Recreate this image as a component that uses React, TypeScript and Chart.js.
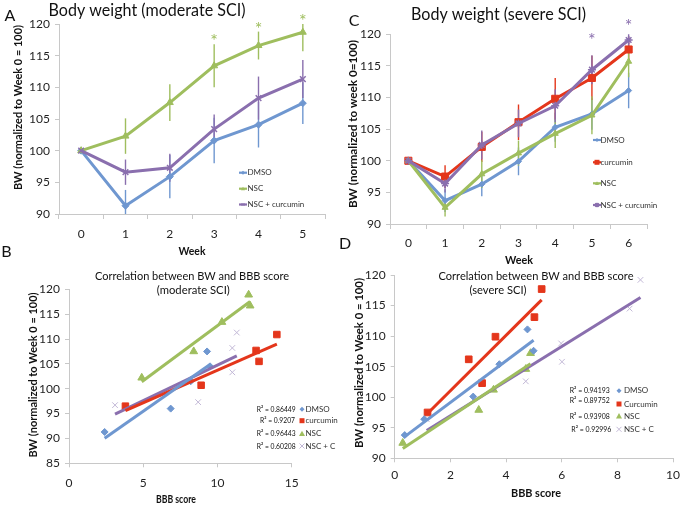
import React, { useEffect, useRef } from 'react';
import { Chart, registerables } from 'chart.js';

Chart.register(...registerables);

const FONT = 'Lato, "Open Sans", sans-serif';
const BLUE = '#6F97D0';
const RED = '#E4361B';
const GREEN = '#9FBE5E';
const PURPLE = '#8A6FAE';
const LAV = '#C2B8D6';
const AXIS = '#C8C8C8';
const TICK = '#1F1F1F';

// ---------- Panel A: body weight, moderate SCI ----------
const weeksModerate = ['0', '1', '2', '3', '4', '5'];
const modDMSO = [100, 91.3, 95.9, 101.6, 104.1, 107.5];
const modNSC = [100, 102.3, 107.6, 113.4, 116.6, 118.7];
const modNSCCur = [100, 96.6, 97.3, 103.4, 108.3, 111.3];
const modDMSOErr = [0, 2.5, 3.4, 3.6, 3.6, 3.3];
const modNSCErr = [0, 2.8, 2.9, 3.4, 2.2, 3.0];
const modNSCCurErr = [0, 2.0, 2.2, 2.3, 3.4, 3.0];

// ---------- Panel C: body weight, severe SCI ----------
const weeksSevere = ['0', '1', '2', '3', '4', '5', '6'];
const sevDMSO = [100, 93.7, 96.3, 99.9, 105.3, 107.4, 111.1];
const sevCur = [100, 97.5, 102.2, 106.1, 109.8, 113.1, 117.6];
const sevNSC = [100, 92.6, 97.9, 101.2, 104.3, 107.2, 115.7];
const sevNSCCur = [100, 96.4, 102.5, 105.9, 108.7, 114.4, 119.1];
const sevDMSOErr = [0, 1.8, 1.9, 2.2, 2.3, 2.5, 2.8];
const sevCurErr = [0, 1.8, 2.4, 2.8, 3.3, 3.5, 2.0];
const sevNSCErr = [0, 1.4, 2.2, 2.0, 2.3, 3.0, 2.5];
const sevNSCCurErr = [0, 1.4, 2.3, 2.2, 2.6, 2.3, 1.0];

// ---------- Panel B: BW vs BBB, moderate SCI ----------
const bbbModDMSO = [2.4, 6.85, 8.2, 9.5, 9.3];
const bwModDMSO = [91.3, 96.0, 101.5, 104.5, 107.5];
const bbbModCur = [3.8, 8.9, 12.6, 12.8, 14.0];
const bwModCur = [96.5, 100.7, 107.7, 105.5, 110.9];
const bbbModNSC = [4.9, 8.4, 10.3, 12.2, 12.1];
const bwModNSC = [102.2, 107.5, 113.4, 116.7, 118.9];
const bbbModNSCC = [3.1, 8.7, 11.0, 11.0, 11.3];
const bwModNSCC = [96.7, 97.3, 103.3, 108.2, 111.3];
const r2Moderate = ['R\u00B2 = 0.86449', 'R\u00B2 = 0.9207', 'R\u00B2 = 0.96443', 'R\u00B2 = 0.60208'];
const groupsModerate = ['DMSO', 'curcumin', 'NSC', 'NSC + C'];

// ---------- Panel D: BW vs BBB, severe SCI ----------
const bbbSevDMSO = [0.36, 1.06, 2.82, 3.76, 4.99, 4.77];
const bwSevDMSO = [93.8, 96.4, 100.1, 105.4, 107.6, 111.1];
const bbbSevCur = [1.18, 2.66, 3.14, 3.62, 5.02, 5.28];
const bwSevCur = [97.5, 106.2, 102.3, 109.9, 113.1, 117.7];
const bbbSevNSC = [0.29, 3.02, 3.55, 4.71, 4.88];
const bwSevNSC = [92.5, 97.9, 101.2, 104.6, 107.2];
const bbbSevNSCC = [1.15, 4.71, 6.01, 5.98, 8.44, 8.83];
const bwSevNSCC = [96.4, 102.6, 105.8, 108.8, 114.5, 119.2];
const r2Severe = ['R\u00B2 = 0.94193', 'R\u00B2 = 0.89752', 'R\u00B2 = 0.93908', 'R\u00B2 = 0.92996'];
const groupsSevere = ['DMSO', 'Curcumin', 'NSC', 'NSC + C'];

// ---------- helpers ----------
type TextItem = {
  text: string; x: number; y: number; size: number; bold?: boolean;
  color?: string; align?: 'left' | 'center' | 'right'; rotate?: boolean; width?: number;
};

function makeTextPlugin(id: string, items: TextItem[]) {
  return {
    id,
    afterDraw(chart: any) {
      const ctx = chart.ctx as CanvasRenderingContext2D;
      for (const t of items) {
        ctx.save();
        ctx.font = `${t.bold ? 'bold ' : ''}${t.size}px ${FONT}`;
        ctx.fillStyle = t.color || '#111';
        ctx.textBaseline = 'alphabetic';
        ctx.textAlign = 'left';
        ctx.translate(t.x, t.y);
        if (t.rotate) ctx.rotate(-Math.PI / 2);
        const w = ctx.measureText(t.text).width;
        const sx = t.width ? t.width / w : 1;
        ctx.scale(sx, 1);
        const align = t.align || 'center';
        const dx = align === 'center' ? -w / 2 : align === 'right' ? -w : 0;
        ctx.fillText(t.text, dx, 0);
        ctx.restore();
      }
    },
  };
}

function drawMarker(ctx: CanvasRenderingContext2D, kind: string, x: number, y: number, r: number, color: string) {
  ctx.save();
  ctx.fillStyle = color;
  ctx.strokeStyle = color;
  ctx.lineWidth = 1.3;
  ctx.beginPath();
  if (kind === 'diamond') {
    ctx.moveTo(x, y - r); ctx.lineTo(x + r, y); ctx.lineTo(x, y + r); ctx.lineTo(x - r, y); ctx.closePath(); ctx.fill();
  } else if (kind === 'square') {
    ctx.rect(x - r, y - r, 2 * r, 2 * r); ctx.fill();
  } else if (kind === 'triangle') {
    ctx.moveTo(x, y - r); ctx.lineTo(x + r, y + r * 0.8); ctx.lineTo(x - r, y + r * 0.8); ctx.closePath(); ctx.fill();
  } else if (kind === 'x') {
    ctx.moveTo(x - r, y - r); ctx.lineTo(x + r, y + r); ctx.moveTo(x + r, y - r); ctx.lineTo(x - r, y + r); ctx.lineWidth = 1; ctx.stroke();
  } else if (kind === 'star') {
    ctx.moveTo(x - r, y - r); ctx.lineTo(x + r, y + r); ctx.moveTo(x + r, y - r); ctx.lineTo(x - r, y + r);
    ctx.moveTo(x, y - r * 1.3); ctx.lineTo(x, y + r * 1.3); ctx.stroke();
  }
  ctx.restore();
}

type LegendItem = { x: number; y: number; text: string; color: string; marker: string; r: number; line?: boolean; tx: number; ty?: number; size: number };

function makeLegendPlugin(id: string, items: LegendItem[]) {
  return {
    id,
    afterDraw(chart: any) {
      const ctx = chart.ctx as CanvasRenderingContext2D;
      for (const it of items) {
        if (it.line) {
          ctx.save();
          ctx.strokeStyle = it.color;
          ctx.lineWidth = 2.2;
          ctx.beginPath();
          ctx.moveTo(it.x - 4, it.y);
          ctx.lineTo(it.x + 4, it.y);
          ctx.stroke();
          ctx.restore();
        }
        drawMarker(ctx, it.marker, it.x, it.y, it.r, it.color);
        ctx.save();
        ctx.font = `${it.size}px ${FONT}`;
        ctx.fillStyle = '#333';
        ctx.textBaseline = 'middle';
        ctx.textAlign = 'left';
        ctx.fillText(it.text, it.tx, it.ty ?? it.y);
        ctx.restore();
      }
    },
  };
}

function makeErrorPlugin(id: string, errors: number[][]) {
  return {
    id,
    beforeDatasetsDraw(chart: any) {
      const ctx = chart.ctx as CanvasRenderingContext2D;
      const area = chart.chartArea;
      const ys = chart.scales.y;
      ctx.save();
      ctx.beginPath();
      ctx.rect(area.left, area.top, area.right - area.left, area.bottom - area.top);
      ctx.clip();
      errors.forEach((errs, i) => {
        const ds = chart.data.datasets[i];
        const meta = chart.getDatasetMeta(i);
        ctx.strokeStyle = ds.borderColor;
        ctx.lineWidth = 1.4;
        errs.forEach((e, j) => {
          if (!e) return;
          const v = ds.data[j] as number;
          const x = meta.data[j].x;
          ctx.beginPath();
          ctx.moveTo(x, ys.getPixelForValue(v + e));
          ctx.lineTo(x, ys.getPixelForValue(v - e));
          ctx.stroke();
        });
      });
      ctx.restore();
    },
  };
}

function makeStarPlugin(id: string, items: { index: number; y: number; color: string }[]) {
  return {
    id,
    afterDraw(chart: any) {
      const ctx = chart.ctx as CanvasRenderingContext2D;
      const xs = chart.scales.x;
      for (const s of items) {
        ctx.save();
        ctx.font = `18px ${FONT}`;
        ctx.fillStyle = s.color;
        ctx.textAlign = 'center';
        ctx.textBaseline = 'alphabetic';
        const m = ctx.measureText('*');
        const base = s.y + (m.actualBoundingBoxAscent - m.actualBoundingBoxDescent) / 2;
        ctx.fillText('*', xs.getPixelForValue(s.index), base);
        ctx.restore();
      }
    },
  };
}

function trend(xs: number[], ys: number[]) {
  const n = xs.length;
  const mx = xs.reduce((a, b) => a + b, 0) / n;
  const my = ys.reduce((a, b) => a + b, 0) / n;
  let sxy = 0, sxx = 0;
  for (let i = 0; i < n; i++) { sxy += (xs[i] - mx) * (ys[i] - my); sxx += (xs[i] - mx) ** 2; }
  const b = sxy / sxx;
  const a = my - b * mx;
  const x0 = Math.min(...xs), x1 = Math.max(...xs);
  return [{ x: x0, y: a + b * x0 }, { x: x1, y: a + b * x1 }];
}

const pts = (xs: number[], ys: number[]) => xs.map((x, i) => ({ x, y: ys[i] }));

function yAxis(min: number, max: number, step: number, width: number) {
  return {
    type: 'linear',
    min, max,
    ticks: { stepSize: step, font: { family: FONT, size: 12 }, color: TICK, padding: 5 },
    grid: { display: true, drawOnChartArea: false, drawTicks: true, tickLength: 4, color: AXIS },
    border: { display: true, color: AXIS, width: 1 },
    afterFit: (s: any) => { s.width = width; },
  };
}

function catAxis(pad: number) {
  return {
    type: 'category',
    offset: true,
    ticks: { font: { family: FONT, size: 12 }, color: TICK, padding: pad, autoSkip: false, maxRotation: 0 },
    grid: { display: true, drawOnChartArea: false, offset: true, drawTicks: true, tickLength: 5, color: AXIS },
    border: { display: true, color: AXIS, width: 1 },
    afterFit: (s: any) => { s.height = 40; },
  };
}

function linXAxis(min: number, max: number, step: number, pad: number) {
  return {
    type: 'linear',
    min, max,
    ticks: { stepSize: step, font: { family: FONT, size: 12 }, color: TICK, padding: pad },
    grid: { display: true, drawOnChartArea: false, drawTicks: true, tickLength: 4, color: AXIS },
    border: { display: true, color: AXIS, width: 1 },
    afterFit: (s: any) => { s.height = 40; },
  };
}

const baseOptions = (padding: any, scales: any) => ({
  responsive: false,
  animation: false,
  events: [],
  layout: { padding },
  plugins: { legend: { display: false }, tooltip: { enabled: false }, title: { display: false } },
  scales,
});

function lineDs(label: string, data: number[], color: string, style: string, r: number, order: number) {
  return {
    label, data, borderColor: color, backgroundColor: color, borderWidth: 3,
    pointStyle: style, pointRadius: r, pointBorderWidth: style === 'star' || style === 'crossRot' ? 1.5 : 1,
    pointBackgroundColor: color, pointBorderColor: color, tension: 0, order,
  };
}

function scatterDs(label: string, data: any[], color: string, style: string, r: number) {
  return {
    type: 'scatter', label, data, showLine: false, pointStyle: style, pointRadius: r,
    pointBackgroundColor: color, pointBorderColor: color, pointBorderWidth: style === 'crossRot' ? 1 : 1,
    backgroundColor: color, borderColor: color, order: 5,
  };
}

function trendDs(label: string, data: any[], color: string) {
  return {
    type: 'line', label, data, showLine: true, borderColor: color, backgroundColor: color,
    borderWidth: 3, pointRadius: 0, order: 1, tension: 0,
  };
}

// ---------- configs ----------
const configA = () => ({
  type: 'line',
  data: {
    labels: weeksModerate,
    datasets: [
      lineDs('DMSO', modDMSO, BLUE, 'rectRot', 3.5, 3),
      lineDs('NSC', modNSC, GREEN, 'triangle', 4, 2),
      lineDs('NSC + curcumin', modNSCCur, PURPLE, 'crossRot', 4, 1),
    ],
  },
  options: baseOptions({ left: 0, top: 24, right: 361, bottom: 253 }, { x: catAxis(8), y: yAxis(90, 120, 5, 59) }),
  plugins: [
    makeErrorPlugin('errA', [modDMSOErr, modNSCErr, modNSCCurErr]),
    makeStarPlugin('starA', [
      { index: 3, y: 37, color: GREEN },
      { index: 4, y: 25, color: GREEN },
      { index: 5, y: 17, color: GREEN },
    ]),
    makeTextPlugin('txtA', [
      { text: 'A', x: 10, y: 20.5, size: 16 },
      { text: 'Body weight (moderate SCI)', x: 147, y: 15.5, size: 17, width: 197 },
      { text: 'BW (normalized to Week 0 = 100)', x: 22, y: 107.5, size: 12, bold: true, rotate: true, width: 165 },
      { text: 'Week', x: 192, y: 254.5, size: 12, bold: true, width: 27 },
    ]),
    makeLegendPlugin('legA', [
      { x: 243, y: 172.7, text: 'DMSO', color: BLUE, marker: 'diamond', r: 2, line: true, tx: 247.5, size: 8 },
      { x: 243, y: 188.7, text: 'NSC', color: GREEN, marker: 'triangle', r: 2, line: true, tx: 247.5, size: 8 },
      { x: 243, y: 204.5, text: 'NSC + curcumin', color: PURPLE, marker: 'x', r: 1.5, line: true, tx: 247.5, size: 8 },
    ]),
  ],
});

const configC = () => ({
  type: 'line',
  data: {
    labels: weeksSevere,
    datasets: [
      lineDs('DMSO', sevDMSO, BLUE, 'rectRot', 3, 4),
      lineDs('curcumin', sevCur, RED, 'rect', 5, 3),
      lineDs('NSC', sevNSC, GREEN, 'triangle', 3.5, 2),
      lineDs('NSC + curcumin', sevNSCCur, PURPLE, 'star', 4, 1),
    ],
  },
  options: baseOptions({ left: 343, top: 34.3, right: 39, bottom: 243 }, { x: catAxis(7), y: yAxis(90, 120, 5, 47) }),
  plugins: [
    makeErrorPlugin('errC', [sevDMSOErr, sevCurErr, sevNSCErr, sevNSCCurErr]),
    makeStarPlugin('starC', [
      { index: 5, y: 36, color: PURPLE },
      { index: 6, y: 21.7, color: PURPLE },
    ]),
    makeTextPlugin('txtC', [
      { text: 'C', x: 354, y: 25.5, size: 16 },
      { text: 'Body weight (severe SCI)', x: 498.5, y: 20, size: 17, width: 175 },
      { text: 'BW (normalized to week 0=100)', x: 357, y: 124, size: 12, bold: true, rotate: true, width: 168 },
      { text: 'Week', x: 519, y: 264, size: 12, bold: true, width: 28 },
    ]),
    makeLegendPlugin('legC', [
      { x: 597, y: 140, text: 'DMSO', color: BLUE, marker: 'diamond', r: 2, line: true, tx: 600.5, size: 8 },
      { x: 597, y: 162.3, text: 'curcumin', color: RED, marker: 'square', r: 2.5, line: true, tx: 600.5, size: 8 },
      { x: 597, y: 183.3, text: 'NSC', color: GREEN, marker: 'triangle', r: 2, line: true, tx: 600.5, size: 8 },
      { x: 597, y: 205, text: 'NSC + curcumin', color: PURPLE, marker: 'star', r: 1.8, line: true, tx: 600.5, size: 8 },
    ]),
  ],
});

const configB = () => ({
  type: 'scatter',
  data: {
    datasets: [
      scatterDs('DMSO', pts(bbbModDMSO, bwModDMSO), BLUE, 'rectRot', 3.5),
      scatterDs('curcumin', pts(bbbModCur, bwModCur), RED, 'rect', 4.6),
      scatterDs('NSC', pts(bbbModNSC, bwModNSC), GREEN, 'triangle', 4.5),
      scatterDs('NSC + C', pts(bbbModNSCC, bwModNSCC), LAV, 'crossRot', 4),
      trendDs('DMSO trend', trend(bbbModDMSO, bwModDMSO), BLUE),
      trendDs('curcumin trend', trend(bbbModCur, bwModCur), RED),
      trendDs('NSC trend', trend(bbbModNSC, bwModNSC), GREEN),
      trendDs('NSC + C trend', trend(bbbModNSCC, bwModNSCC), PURPLE),
    ],
  },
  options: baseOptions({ left: 0, top: 289.3, right: 394.3, bottom: 3.7 }, { x: linXAxis(0, 15, 5, 9), y: yAxis(85, 120, 5, 69) }),
  plugins: [
    makeTextPlugin('txtB', [
      { text: 'B', x: 6.5, y: 256.5, size: 16 },
      { text: 'Correlation between BW and BBB score', x: 192, y: 280, size: 12, width: 194 },
      { text: '(moderate SCI)', x: 193.3, y: 293.5, size: 12, width: 73 },
      { text: 'BW (normalized to Week 0 = 100)', x: 36.5, y: 375, size: 12, bold: true, rotate: true, width: 165 },
      { text: 'BBB score', x: 176, y: 503, size: 12, bold: true, width: 40 },
      { text: r2Moderate[0], x: 256.7, y: 412, size: 8, align: 'left', width: 39 },
      { text: r2Moderate[1], x: 260, y: 423.4, size: 8, align: 'left', width: 35 },
      { text: r2Moderate[2], x: 256.7, y: 436.4, size: 8, align: 'left', width: 39 },
      { text: r2Moderate[3], x: 256.7, y: 448.7, size: 8, align: 'left', width: 39 },
    ]),
    makeLegendPlugin('legB', [
      { x: 302, y: 409.3, text: groupsModerate[0], color: BLUE, marker: 'diamond', r: 2.5, tx: 305.5, size: 8 },
      { x: 302, y: 420.7, text: groupsModerate[1], color: RED, marker: 'square', r: 2.5, tx: 305.5, size: 8 },
      { x: 302, y: 433.7, text: groupsModerate[2], color: GREEN, marker: 'triangle', r: 3, tx: 305.5, size: 8 },
      { x: 302, y: 446, text: groupsModerate[3], color: LAV, marker: 'x', r: 2.5, tx: 305.5, size: 8 },
    ]),
  ],
});

const configD = () => ({
  type: 'scatter',
  data: {
    datasets: [
      scatterDs('DMSO', pts(bbbSevDMSO, bwSevDMSO), BLUE, 'rectRot', 3.5),
      scatterDs('Curcumin', pts(bbbSevCur, bwSevCur), RED, 'rect', 4.7),
      scatterDs('NSC', pts(bbbSevNSC, bwSevNSC), GREEN, 'triangle', 4.5),
      scatterDs('NSC + C', pts(bbbSevNSCC, bwSevNSCC), LAV, 'crossRot', 4),
      trendDs('DMSO trend', trend(bbbSevDMSO, bwSevDMSO), BLUE),
      trendDs('Curcumin trend', trend(bbbSevCur, bwSevCur), RED),
      trendDs('NSC trend', trend(bbbSevNSC, bwSevNSC), GREEN),
      trendDs('NSC + C trend', trend(bbbSevNSCC, bwSevNSCC), PURPLE),
    ],
  },
  options: baseOptions({ left: 342.7, top: 275, right: 9.7, bottom: 8.7 }, { x: linXAxis(0, 10, 2, 6), y: yAxis(90, 120, 5, 52) }),
  plugins: [
    makeTextPlugin('txtD', [
      { text: 'D', x: 345, y: 249, size: 16 },
      { text: 'Correlation between BW and BBB score', x: 536, y: 280, size: 12, width: 195 },
      { text: '(severe SCI)', x: 498, y: 294, size: 12, width: 57 },
      { text: 'BW (normalized to Week 0 = 100)', x: 363, y: 363, size: 12, bold: true, rotate: true, width: 170 },
      { text: 'BBB score', x: 536, y: 497, size: 12, bold: true, width: 50 },
      { text: r2Severe[0], x: 569.7, y: 393.4, size: 8, align: 'left', width: 40 },
      { text: r2Severe[1], x: 569.7, y: 402.7, size: 8, align: 'left', width: 40 },
      { text: r2Severe[2], x: 569.7, y: 418.7, size: 8, align: 'left', width: 40 },
      { text: r2Severe[3], x: 571.3, y: 432, size: 8, align: 'left', width: 40 },
    ]),
    makeLegendPlugin('legD', [
      { x: 619, y: 390.7, text: groupsSevere[0], color: BLUE, marker: 'diamond', r: 2.5, tx: 624, size: 8 },
      { x: 619, y: 404, text: groupsSevere[1], color: RED, marker: 'square', r: 2.5, tx: 624, size: 8 },
      { x: 619, y: 416, text: groupsSevere[2], color: GREEN, marker: 'triangle', r: 3, tx: 624, size: 8 },
      { x: 619, y: 429.3, text: groupsSevere[3], color: LAV, marker: 'x', r: 2.5, tx: 624, size: 8 },
    ]),
  ],
});

function ChartCanvas({ make }: { make: () => any }) {
  const ref = useRef<HTMLCanvasElement | null>(null);
  useEffect(() => {
    if (!ref.current) return;
    const chart = new Chart(ref.current, make());
    return () => chart.destroy();
  }, [make]);
  return (
    <canvas
      ref={ref}
      width={686}
      height={507}
      style={{ position: 'absolute', left: 0, top: 0, width: 686, height: 507 }}
    />
  );
}

export default function App() {
  return (
    <div style={{ position: 'fixed', left: 0, top: 0, width: 686, height: 507, background: '#fff', overflow: 'hidden' }}>
      <ChartCanvas make={configA} />
      <ChartCanvas make={configC} />
      <ChartCanvas make={configB} />
      <ChartCanvas make={configD} />
    </div>
  );
}
